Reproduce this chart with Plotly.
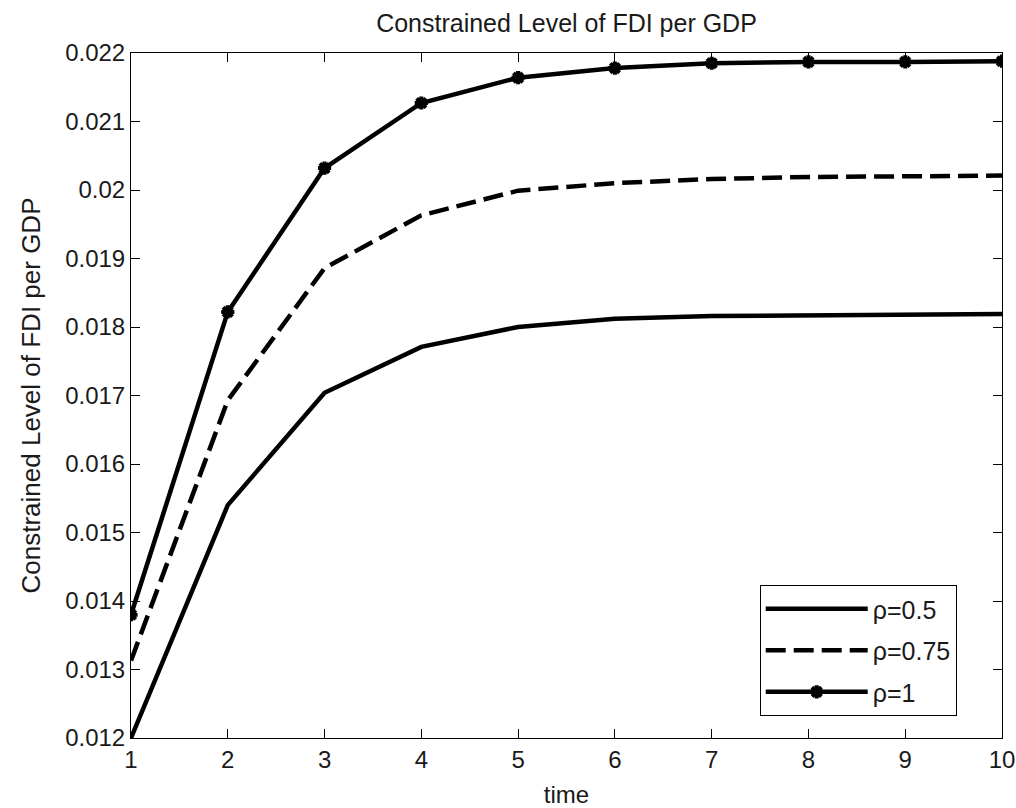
import plotly.graph_objects as go

time = [1, 2, 3, 4, 5, 6, 7, 8, 9, 10]
rho_050 = [0.01200, 0.01540, 0.01704, 0.01771, 0.01800, 0.01812, 0.01816, 0.01817, 0.01818, 0.01819]
rho_075 = [0.01313, 0.01693, 0.01886, 0.01963, 0.01999, 0.02010, 0.02016, 0.02019, 0.02020, 0.02021]
rho_100 = [0.01380, 0.01822, 0.02032, 0.02127, 0.02164, 0.02178, 0.02185, 0.02187, 0.02187, 0.02188]
names = ["ρ=0.5", "ρ=0.75", "ρ=1"]

y_ticks = [0.012, 0.013, 0.014, 0.015, 0.016, 0.017, 0.018, 0.019, 0.02, 0.021, 0.022]
y_ticktext = ["0.012", "0.013", "0.014", "0.015", "0.016", "0.017", "0.018", "0.019", "0.02", "0.021", "0.022"]

FONT = "Liberation Sans, Arial, sans-serif"
TXT = "#1a1a1a"

fig = go.Figure()
fig.add_trace(go.Scatter(x=time, y=rho_050, mode="lines", name=names[0], legendgroup="a",
                         line=dict(color="black", width=4.5)))
fig.add_trace(go.Scatter(x=time, y=rho_075, mode="lines", name=names[1], legendgroup="b",
                         line=dict(color="black", width=4.5, dash="20px,8px")))
fig.add_trace(go.Scatter(x=time, y=rho_100, mode="lines+markers", name=names[2], legendgroup="c",
                         line=dict(color="black", width=4.5),
                         marker=dict(symbol="asterisk-open", size=11, color="black",
                                     line=dict(color="black", width=4))))

axis_common = dict(
    showgrid=False, zeroline=False, showline=True, linecolor="black", linewidth=1,
    mirror="ticks", ticks="inside", ticklen=9, tickwidth=1, tickcolor="black",
    tickfont=dict(family=FONT, size=24, color=TXT), automargin=False,
)

fig.update_layout(
    width=1016, height=808,
    margin=dict(l=131, r=14, t=53, b=70),
    paper_bgcolor="white", plot_bgcolor="white",
    font=dict(family=FONT, size=24, color=TXT),
    title=dict(text="Constrained Level of FDI per GDP", x=0.5, xanchor="center",
               xref="paper", y=0.971, yanchor="middle",
               font=dict(family=FONT, size=25, color=TXT)),
    xaxis=dict(range=[1, 10], tickvals=time, title=dict(text="time", standoff=15,
               font=dict(family=FONT, size=24, color=TXT)), **axis_common),
    yaxis=dict(range=[0.012, 0.022], tickvals=y_ticks, ticktext=y_ticktext,
               title=dict(text="Constrained Level of FDI per GDP", standoff=17,
                          font=dict(family=FONT, size=26, color=TXT)), **axis_common),
    legend=dict(x=0.948, xanchor="right", y=0.032, yanchor="bottom",
                bgcolor="white", bordercolor="black", borderwidth=1,
                font=dict(family=FONT, size=25, color=TXT),
                itemwidth=102, tracegroupgap=6),
    showlegend=True,
)

fig.write_html("out.html", config={"displayModeBar": False},
               post_script="document.body.style.margin='0';document.body.style.overflow='hidden';")
